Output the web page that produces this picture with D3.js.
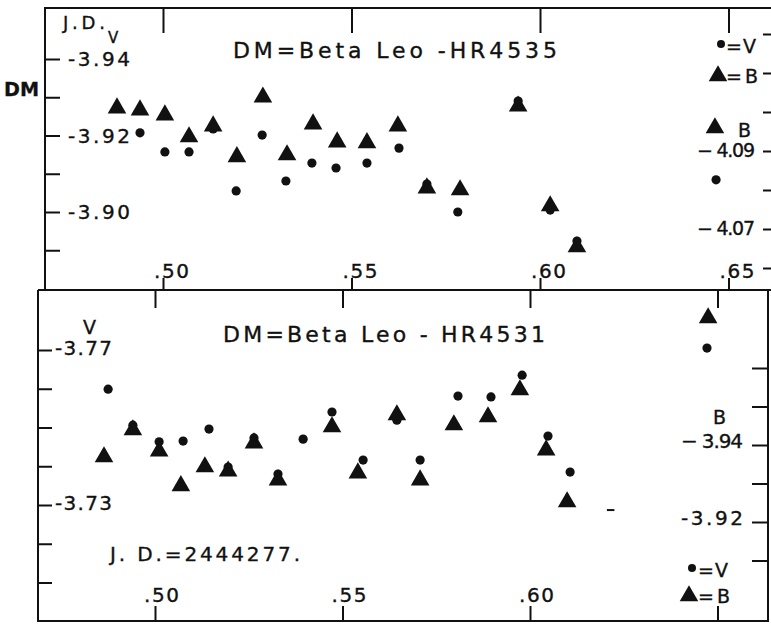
<!DOCTYPE html>
<html>
<head>
<meta charset="utf-8">
<script src="https://cdn.jsdelivr.net/npm/d3@7"></script>
<style>
  html, body { margin: 0; padding: 0; background: #fff; }
  svg { display: block; font-family: "DejaVu Sans", "Liberation Sans", Arial, sans-serif; }
  .frame { stroke: #111; stroke-width: 2; fill: none; }
  .ticks line { stroke: #111; stroke-width: 2; }
  .lbl { fill: #111; stroke: #111; stroke-width: 0.35; }
  .mark { fill: #111; }
</style>
</head>
<body>
<div id="chart"></div>
<script>
const JD_TICKS = [0.50, 0.55, 0.60, 0.65];
const JD_TICK_LABELS = [".50", ".55", ".60", ".65"];

// upper panel: DM = Beta Leo - HR4535
const TOP_V_JD = [0.4939, 0.5005, 0.5069, 0.5133, 0.5194, 0.5263, 0.5326, 0.5395, 0.5459,
  0.5541, 0.5626, 0.5700, 0.5782, 0.5942, 0.6027, 0.6098, 0.6467];
const TOP_V = [-3.9207, -3.9157, -3.9157, -3.9217, -3.9055, -3.9201, -3.9081, -3.9128, -3.9115,
  -3.9128, -3.9167, -3.9073, -3.9000, -3.9290, -3.9005, -3.8924, -3.9084];
const TOP_B_JD = [0.4878, 0.4939, 0.5005, 0.5069, 0.5133, 0.5196, 0.5265, 0.5329, 0.5398,
  0.5462, 0.5541, 0.5623, 0.5700, 0.5788, 0.5942, 0.6027, 0.6098, 0.6464];
const TOP_B = [-4.1010, -4.1005, -4.0992, -4.0936, -4.0964, -4.0885, -4.1038, -4.0890, -4.0969,
  -4.0923, -4.0921, -4.0964, -4.0805, -4.0800, -4.1015, -4.0759, -4.0654, -4.0959];
const TOP_V_TICKS = [-3.94, -3.93, -3.92, -3.91, -3.90, -3.89];
const TOP_V_TICK_LABELS = [[-3.94, "-3.94"], [-3.92, "-3.92"], [-3.90, "-3.90"]];
const TOP_B_TICKS = [-4.12, -4.11, -4.10, -4.09, -4.08, -4.07, -4.06];
const TOP_B_TICK_LABELS = [[-4.09, "− 4.09"], [-4.07, "− 4.07"]];

// lower panel: DM = Beta Leo - HR4531
const BOT_V_JD = [0.4875, 0.4941, 0.5011, 0.5075, 0.5144, 0.5195, 0.5264, 0.5328, 0.5395, 0.5472,
  0.5555, 0.5645, 0.5707, 0.5808, 0.5896, 0.5979, 0.6048, 0.6107, 0.6472];
const BOT_V = [-3.7599, -3.7506, -3.7463, -3.7465, -3.7496, -3.7398, -3.7473, -3.7380, -3.7470, -3.7540,
  -3.7416, -3.7519, -3.7416, -3.7581, -3.7579, -3.7635, -3.7478, -3.7385, -3.7705];
const BOT_B_JD = [0.4864, 0.4941, 0.5011, 0.5069, 0.5133, 0.5195, 0.5264, 0.5328, 0.5472,
  0.5541, 0.5645, 0.5707, 0.5797, 0.5888, 0.5973, 0.6043, 0.6099, 0.6475];
const BOT_B = [-3.9369, -3.9439, -3.9384, -3.9294, -3.9343, -3.9332, -3.9405, -3.9309, -3.9447,
  -3.9327, -3.9478, -3.9309, -3.9452, -3.9473, -3.9543, -3.9387, -3.9252, -3.9730];
const BOT_V_TICKS = [-3.77, -3.76, -3.75, -3.74, -3.73, -3.72, -3.71];
const BOT_V_TICK_LABELS = [[-3.77, "-3.77"], [-3.73, "-3.73"]];
const BOT_B_TICKS = [-3.96, -3.95, -3.94, -3.93, -3.92, -3.91];
const BOT_B_TICK_LABELS = [[-3.94, "− 3.94"], [-3.92, "-3.92"]];

const width = 771;
const height = 637;

const svg = d3.select("#chart").append("svg")
  .attr("width", width)
  .attr("height", height)
  .attr("viewBox", `0 0 ${width} ${height}`);

function addText(x, y, text, size, opts = {}) {
  const t = svg.append("text")
    .attr("class", "lbl")
    .attr("x", x)
    .attr("y", y)
    .attr("font-size", size)
    .attr("font-weight", opts.bold ? "bold" : "normal")
    .text(text);
  if (opts.length) {
    t.attr("textLength", opts.length).attr("lengthAdjust", opts.adjust || "spacing");
  }
  return t;
}

function addTicks(axis, transform) {
  svg.append("g")
    .attr("class", "ticks")
    .attr("transform", transform)
    .call(axis)
    .call((g) => g.select(".domain").remove())
    .call((g) => g.selectAll("text").remove());
}

function addMarks(xScale, vScale, bScale, vJd, vVals, bJd, bVals) {
  svg.append("g")
    .selectAll("circle")
    .data(d3.zip(vJd, vVals))
    .join("circle")
    .attr("class", "mark")
    .attr("cx", (d) => xScale(d[0]))
    .attr("cy", (d) => vScale(d[1]))
    .attr("r", 4.6);

  svg.append("g")
    .selectAll("path")
    .data(d3.zip(bJd, bVals))
    .join("path")
    .attr("class", "mark")
    .attr("transform", (d) => `translate(${xScale(d[0])},${bScale(d[1])})`)
    .attr("d", d3.symbol(d3.symbolTriangle, 150));
}

function legendMarks(cx, cy, tx, ty) {
  svg.append("circle").attr("class", "mark").attr("cx", cx).attr("cy", cy).attr("r", 4);
  addText(tx, cy + 9, "=V", 19, { length: 30 });
  svg.append("path").attr("class", "mark")
    .attr("transform", `translate(${cx - 3},${ty - 7})`)
    .attr("d", d3.symbol(d3.symbolTriangle, 150));
  addText(tx, ty, "=B", 19, { length: 32 });
}

// ---------- upper panel ----------
const xTop = d3.scaleLinear().domain([0.50, 0.60]).range([163, 540]);
const vTop = d3.scaleLinear().domain([-3.94, -3.90]).range([59, 212]);
const bTop = d3.scaleLinear().domain([-4.09, -4.07]).range([151, 229]);

svg.append("path").attr("class", "frame").attr("d", "M45,290 L45,8 L771,8");
svg.append("path").attr("class", "frame").attr("d", "M38,290 L771,290");

addTicks(d3.axisBottom(xTop).tickValues(JD_TICKS).tickSize(25), "translate(0,8)");
addTicks(d3.axisTop(xTop).tickValues(JD_TICKS).tickSize(12), "translate(0,290)");
addTicks(d3.axisRight(vTop).tickValues(TOP_V_TICKS).tickSize(15), "translate(45,0)");
addTicks(d3.axisLeft(bTop).tickValues(TOP_B_TICKS).tickSize(8), "translate(771,0)");

TOP_V_TICK_LABELS.forEach(([v, s]) => addText(68, vTop(v) + 7, s, 20, { length: 62 }));
TOP_B_TICK_LABELS.forEach(([v, s]) => addText(697, bTop(v) + 6, s, 19, { length: 58 }));
JD_TICKS.forEach((v, i) => addText(xTop(v) - 9, 278, JD_TICK_LABELS[i], 20, { length: 35 }));

addText(63, 29, "J.D.", 18, { length: 42 });
addText(108, 43, "V", 15);
addText(4, 96, "DM", 20, { bold: true, length: 35, adjust: "spacingAndGlyphs" });
addText(233, 58, "DM=Beta Leo -HR4535", 22, { length: 324 });
addText(738, 137, "B", 19);
legendMarks(721, 44, 726, 83);

addMarks(xTop, vTop, bTop, TOP_V_JD, TOP_V, TOP_B_JD, TOP_B);

// ---------- lower panel ----------
const xBot = d3.scaleLinear().domain([0.50, 0.60]).range([155, 530]);
const vBot = d3.scaleLinear().domain([-3.77, -3.73]).range([350, 505]);
const bBot = d3.scaleLinear().domain([-3.94, -3.92]).range([445, 522]);

svg.append("path").attr("class", "frame").attr("d", "M38,290 L38,621 L768,621 L768,290");

addTicks(d3.axisBottom(xBot).tickValues(JD_TICKS).tickSize(18), "translate(0,290)");
addTicks(d3.axisTop(xBot).tickValues(JD_TICKS).tickSize(15), "translate(0,621)");
addTicks(d3.axisRight(vBot).tickValues(BOT_V_TICKS).tickSize(14), "translate(38,0)");
addTicks(d3.axisLeft(bBot).tickValues(BOT_B_TICKS).tickSize(16), "translate(768,0)");

BOT_V_TICK_LABELS.forEach(([v, s]) => addText(55, vBot(v) + 5, s, 20, { length: 57 }));
BOT_B_TICK_LABELS.forEach(([v, s]) => addText(681, bBot(v) + 3, s, 20, { length: 62 }));
JD_TICKS.slice(0, 3).forEach((v, i) => addText(xBot(v) - 11, 602, JD_TICK_LABELS[i], 20, { length: 35 }));

addText(83, 334, "V", 19);
addText(223, 342, "DM=Beta Leo - HR4531", 22, { length: 322 });
addText(110, 561, "J. D.=2444277.", 20, { length: 190 });
addText(713, 424, "B", 19);
legendMarks(692, 568, 698, 603);

// stray dash right of the last pair
svg.append("line").attr("x1", xBot(0.6205)).attr("x2", xBot(0.6225))
  .attr("y1", bBot(-3.9231)).attr("y2", bBot(-3.9231))
  .attr("stroke", "#111").attr("stroke-width", 2);

addMarks(xBot, vBot, bBot, BOT_V_JD, BOT_V, BOT_B_JD, BOT_B);
</script>
</body>
</html>
